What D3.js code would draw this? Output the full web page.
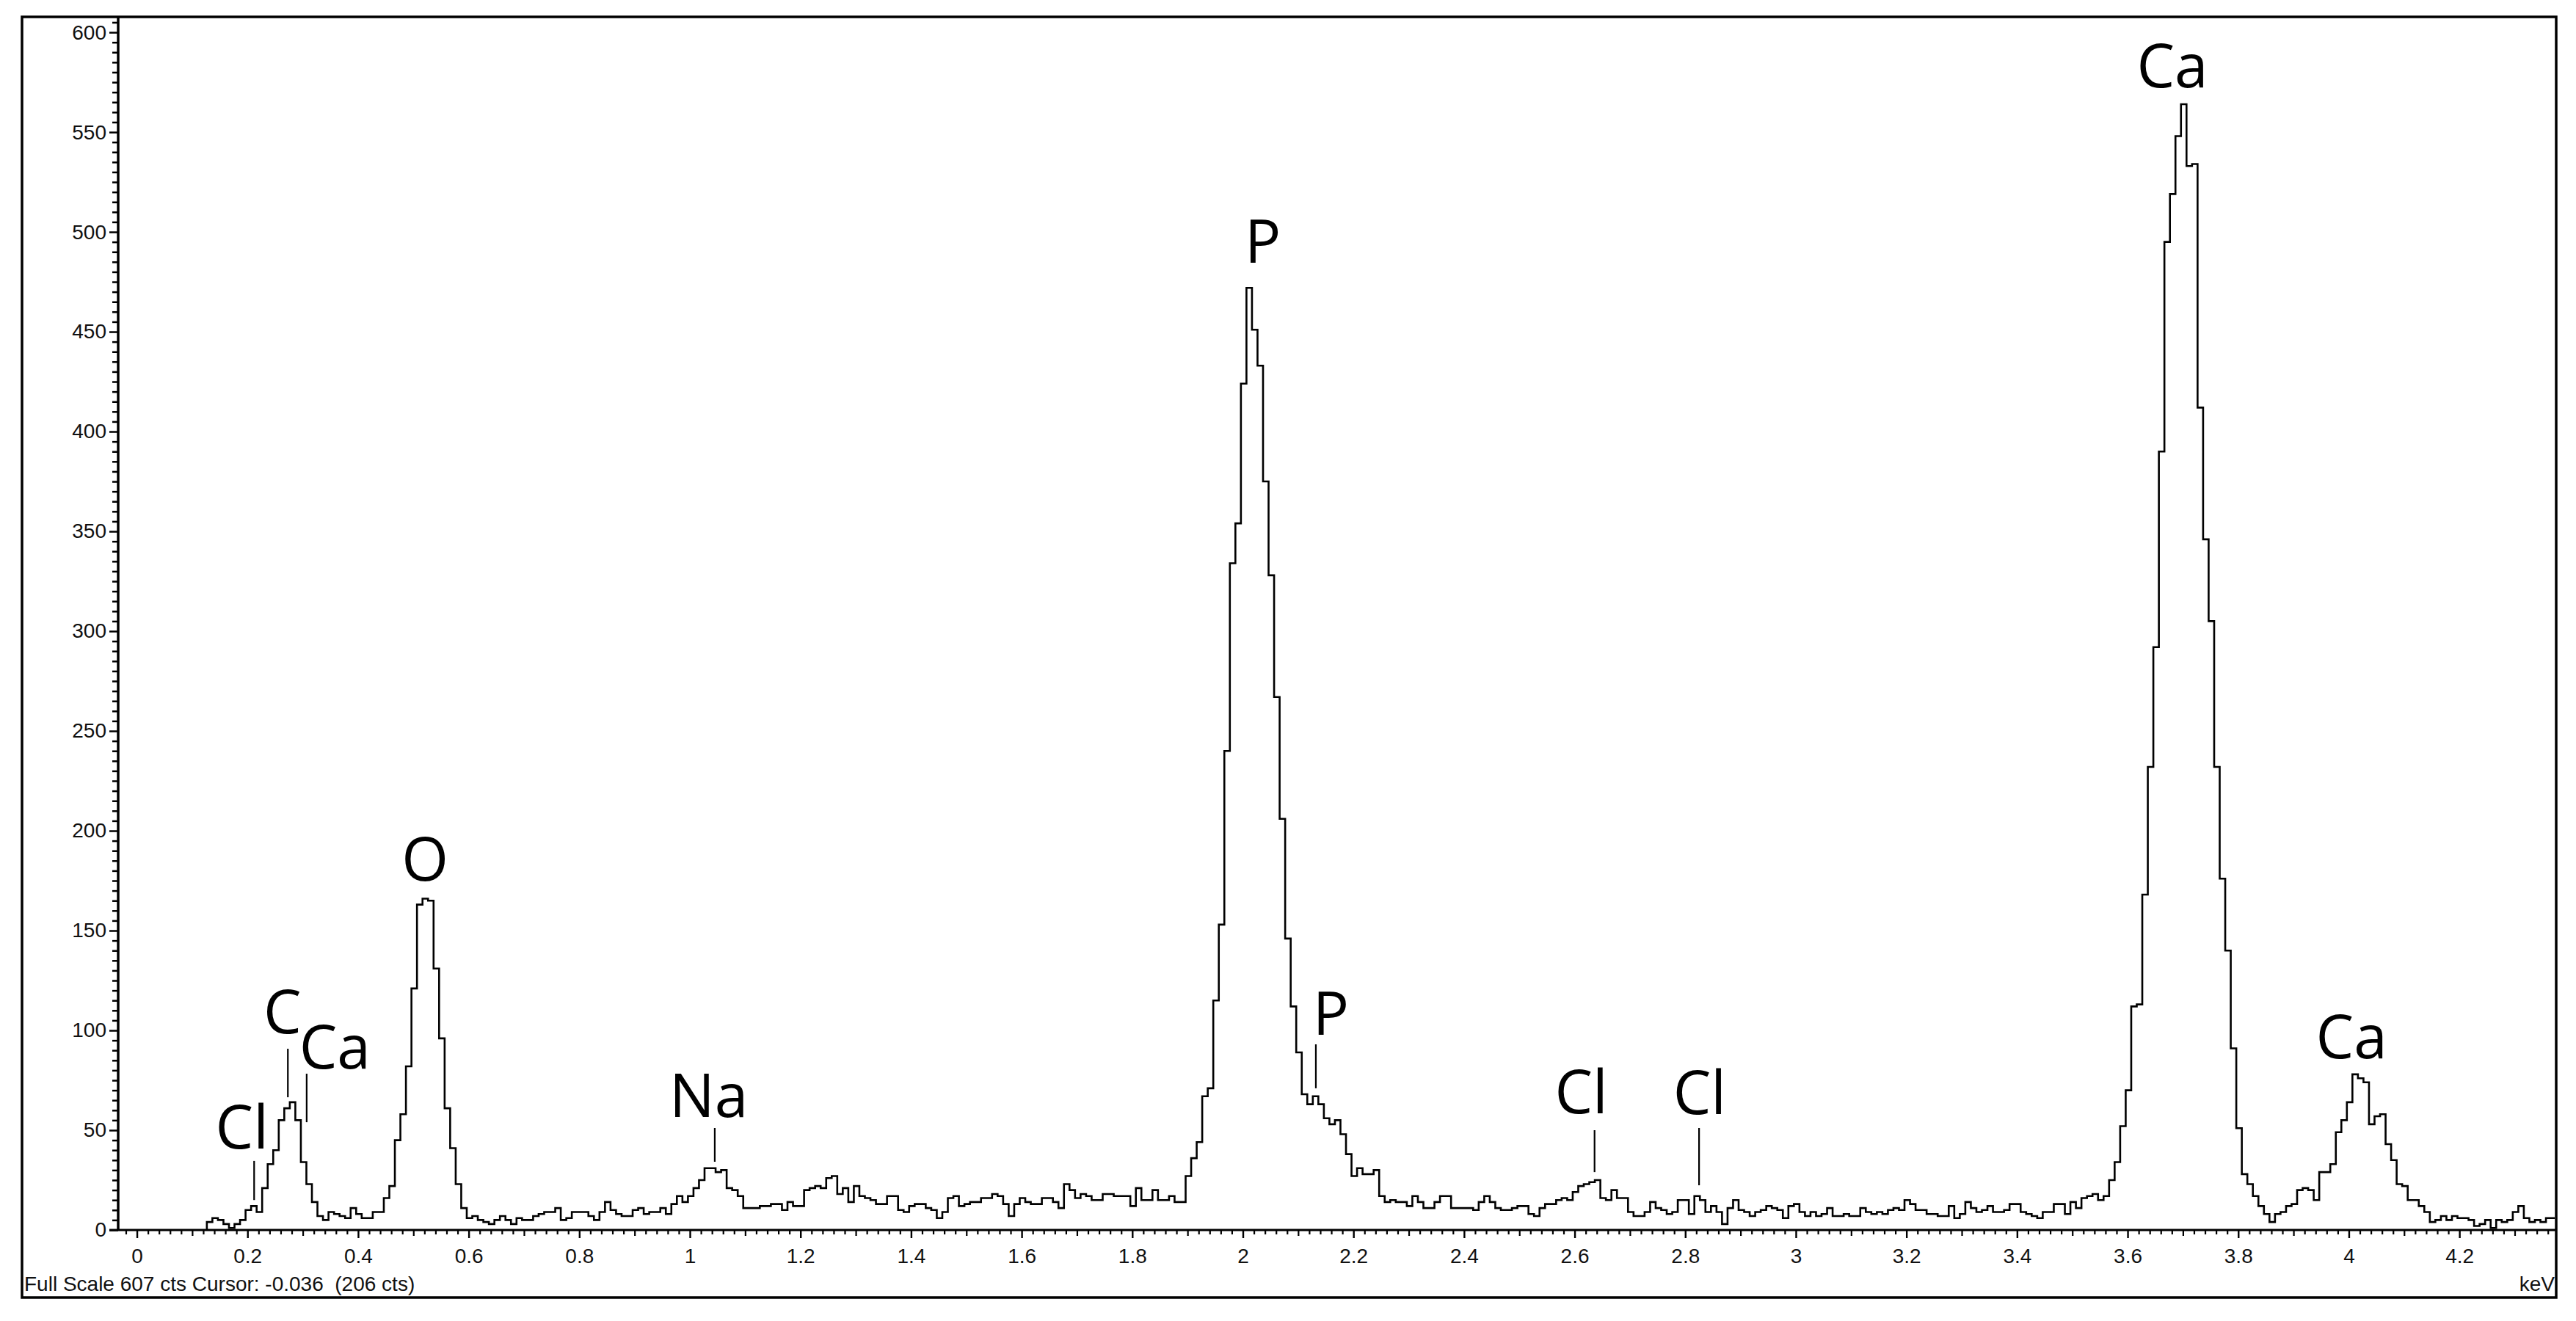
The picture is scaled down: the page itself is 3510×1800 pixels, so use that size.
<!DOCTYPE html>
<html><head><meta charset="utf-8">
<script src="https://cdn.jsdelivr.net/npm/d3@7"></script>
<style>
html,body{margin:0;padding:0;background:#fff;}
svg{display:block;}
</style></head><body>
<svg id="chart" width="3510" height="1800"></svg>
<script>
// ---- data ----
const binStart = 0.1265;   // keV, lower edge of first channel
const binWidth = 0.01;     // keV per channel
const counts = [
  4,6,5,3,1,3,5,10,12,9,
  21,33,40,55,61,64,55,34,23,14,
  7,5,9,8,7,6,11,8,6,6,
  9,9,16,22,45,58,82,121,163,166,
  165,131,96,61,41,23,11,6,7,5,
  4,3,5,7,5,3,6,5,5,7,
  8,9,9,11,5,6,9,9,9,7,
  5,9,14,10,8,7,7,10,11,8,
  9,9,11,8,13,17,14,17,21,25,
  31,31,29,30,21,20,17,11,11,11,
  12,12,13,13,10,14,12,12,20,21,
  22,21,26,27,18,21,14,22,17,16,
  15,13,13,17,17,10,9,12,13,13,
  11,10,6,9,16,17,12,13,14,14,
  16,16,18,17,13,7,13,16,14,13,
  13,16,16,14,11,23,20,16,18,17,
  15,15,18,18,17,17,17,12,21,15,
  15,20,15,15,17,14,14,27,36,44,
  67,71,115,153,240,334,354,424,472,451,
  433,375,328,267,206,146,112,89,68,63,
  67,63,56,53,55,48,38,27,31,28,
  28,30,17,14,15,14,14,12,17,14,
  11,11,14,17,17,11,11,11,11,10,
  14,17,14,11,10,10,11,12,12,8,
  7,11,13,13,15,16,15,19,22,23,
  24,25,16,15,20,16,16,9,7,7,
  9,14,11,10,8,9,15,15,8,17,
  15,9,12,9,3,11,15,10,9,7,
  9,10,12,11,10,6,12,13,9,7,
  9,7,8,11,7,7,8,7,7,11,
  9,8,9,8,10,11,10,15,13,10,
  10,8,8,7,7,12,6,8,14,11,
  9,10,12,9,9,10,13,13,9,8,
  7,6,9,9,13,13,8,14,11,16,
  17,18,15,17,25,34,52,70,112,113,
  168,232,292,390,495,519,548,564,533,534,
  412,346,305,232,176,140,91,51,28,23,
  17,12,8,4,8,9,12,13,20,21,
  20,15,29,29,33,49,55,64,78,76,
  74,53,57,58,43,35,23,22,15,15,
  12,9,4,5,7,5,7,6,6,5,
  2,3,5,1,5,4,5,9,12,6,
  4,5,4,6,6
];
const xTickLabels = [0,0.2,0.4,0.6,0.8,1,1.2,1.4,1.6,1.8,2,2.2,2.4,2.6,2.8,3,3.2,3.4,3.6,3.8,4,4.2];
const yTickLabels = [0,50,100,150,200,250,300,350,400,450,500,550,600];
const xUnit = "keV";
const statusText = "Full Scale 607 cts Cursor: -0.036  (206 cts)";
// peak annotations (element, label anchor in keV / counts)
const peakNames        = ["Cl","C","Ca","O","Na","P","P","Cl","Cl","Ca","Ca"];
const peakLabelEnergy  = [0.19,0.263,0.358,0.521,1.034,2.036,2.159,2.612,2.826,3.681,4.005];
const peakLabelCounts  = [40.8,98.5,81,175,56.6,484.6,97.8,58.5,58,572.4,86];
// marker lines (energy, from counts, to counts)
const markerEnergy = [0.212,0.273,0.307,1.045,2.132,2.636,2.825];
const markerFrom   = [15,66.5,54,34.2,71,29,22.4];
const markerTo     = [34.6,90.8,78.3,51.1,93,50,51.1];

// ---- drawing ----
const svg = d3.select("#chart");
const x = d3.scaleLinear().domain([-0.0339, 4.375]).range([161, 3483]);
const y = d3.scaleLinear().domain([0, 607]).range([1676, 25]);
const labelFont = "'Liberation Sans', Arial, sans-serif";

// frame
svg.append("rect").attr("x",30).attr("y",23).attr("width",3453).attr("height",1745)
  .attr("fill","none").attr("stroke","#000").attr("stroke-width",3.5);

// clip
svg.append("defs").append("clipPath").attr("id","plotclip")
  .append("rect").attr("x",161).attr("y",23).attr("width",3320).attr("height",1660);

// spectrum (step outline)
const pts = [[binStart,0]];
counts.forEach((c,i)=>pts.push([binStart + i*binWidth, c]));
pts.push([binStart + counts.length*binWidth, counts[counts.length-1]]);
const line = d3.line().x(d=>x(d[0])).y(d=>y(d[1])).curve(d3.curveStepAfter);
svg.append("path").attr("d", line(pts)).attr("clip-path","url(#plotclip)")
  .attr("fill","none").attr("stroke","#000").attr("stroke-width",2.6)
  .attr("stroke-linejoin","miter");

// y axis
const yMinor = d3.range(0, 606, 5).filter(v => v % 50 !== 0);
const gyMinor = svg.append("g").attr("transform","translate(161,0)")
  .call(d3.axisLeft(y).tickValues(yMinor).tickSize(8).tickSizeOuter(0).tickFormat(""));
const gyMajor = svg.append("g").attr("transform","translate(161,0)")
  .call(d3.axisLeft(y).tickValues(yTickLabels).tickSize(12).tickSizeOuter(0).tickPadding(4)
        .tickFormat(d3.format("d")));
[gyMinor, gyMajor].forEach(g=>{
  g.select(".domain").remove();
  g.selectAll(".tick line").attr("stroke","#000").attr("stroke-width",2.5);
});
gyMajor.selectAll("text").attr("font-family",labelFont).attr("font-size",28).attr("fill","#111");
svg.append("line").attr("x1",161).attr("x2",161).attr("y1",23).attr("y2",1677)
  .attr("stroke","#000").attr("stroke-width",3.5);

// x axis
const allX = d3.range(-1, 219).map(k => Math.round(k*2)/100);
const isMajor = v => Math.abs(v*5 - Math.round(v*5)) < 1e-6;
const isMed = v => !isMajor(v) && Math.abs(v*10 - Math.round(v*10)) < 1e-6;
const xMinor = allX.filter(v => !isMajor(v) && !isMed(v));
const xMed = allX.filter(isMed);
const mk = (vals, size) => {
  const g = svg.append("g").attr("transform","translate(0,1676)")
    .call(d3.axisBottom(x).tickValues(vals).tickSize(size).tickSizeOuter(0).tickFormat(""));
  g.select(".domain").remove();
  g.selectAll(".tick line").attr("stroke","#000").attr("stroke-width",2.2);
  return g;
};
mk(xMinor, 6); mk(xMed, 8);
const gx = svg.append("g").attr("transform","translate(0,1676)")
  .call(d3.axisBottom(x).tickValues(xTickLabels).tickSize(11).tickSizeOuter(0).tickPadding(14)
        .tickFormat(d => String(+d.toFixed(1))));
gx.select(".domain").remove();
gx.selectAll(".tick line").attr("stroke","#000").attr("stroke-width",2.4);
gx.selectAll("text").attr("font-family",labelFont).attr("font-size",28).attr("fill","#111");
svg.append("line").attr("x1",149).attr("x2",3483).attr("y1",1676).attr("y2",1676)
  .attr("stroke","#000").attr("stroke-width",3.2);

// unit and status texts
svg.append("text").attr("x",3481).attr("y",1759).attr("text-anchor","end")
  .attr("font-family",labelFont).attr("font-size",28).attr("fill","#111").text(xUnit);
svg.append("text").attr("x",33).attr("y",1759).style("white-space","pre")
  .attr("font-family",labelFont).attr("font-size",28).attr("fill","#111").text(statusText);

// marker lines
svg.append("g").selectAll("line").data(markerEnergy).join("line")
  .attr("x1",d=>x(d)).attr("x2",d=>x(d))
  .attr("y1",(d,i)=>y(markerFrom[i])).attr("y2",(d,i)=>y(markerTo[i]))
  .attr("stroke","#000").attr("stroke-width",2.2);

// peak labels
svg.append("g").selectAll("text").data(peakNames).join("text")
  .attr("x",(d,i)=>x(peakLabelEnergy[i])).attr("y",(d,i)=>y(peakLabelCounts[i]))
  .attr("text-anchor","middle").attr("font-family","'Open Sans', 'Noto Sans', sans-serif")
  .attr("font-size",82).attr("fill","#000").text(d=>d);
</script>
</body></html>
